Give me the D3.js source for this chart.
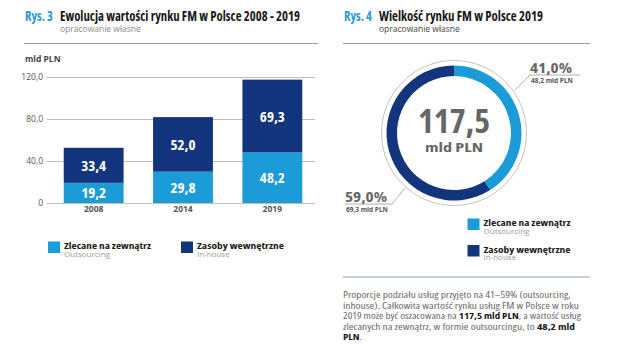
<!DOCTYPE html>
<html lang="pl">
<head>
<meta charset="UTF-8">
<title>Rynek FM w Polsce</title>
<script src="https://d3js.org/d3.v7.min.js"></script>
<style>
    body { margin: 0; background: #fff; }
    text { font-family: "Open Sans", "Noto Sans", sans-serif; white-space: pre; }
    .cond { font-stretch: 75%; }
    .semi { font-stretch: 87.5%; }
</style>
</head>
<body>
<svg id="chart" width="627" height="348"></svg>
<script>
    // dane: wartość rynku FM (mld PLN)
    const years = ["2008", "2014", "2019"];
    const outsourcing = [19.2, 29.8, 48.2];
    const inhouse = [33.4, 52.0, 69.3];
    const yTicks = [0, 40, 80, 120];

    // struktura rynku w 2019
    const shareNames = ["Zlecane na zewnątrz", "Zasoby wewnętrzne"];
    const shareSub = ["Outsourcing", "In-house"];
    const shareValues = [48.2, 69.3];

    const LIGHT = "#1b9bd7", DARK = "#12357d", ACCENT = "#2a9ad7";

    const svg = d3.select("#chart");
    const fmt = d => d === 0 ? "0" : d3.format(".1f")(d).replace(".", ",");

    // tekst zwężony (font-stretch), szerokość dociągnięta przez textLength
    function cond(g, x, y, str, opts) {
        const t = g.append("text")
            .attr("class", "cond")
            .attr("x", x).attr("y", y)
            .attr("text-anchor", opts.anchor || "start")
            .attr("font-size", opts.size)
            .attr("font-weight", opts.weight || 700)
            .attr("fill", opts.fill || "#222")
            .text(str);
        if (opts.width) t.attr("textLength", opts.width).attr("lengthAdjust", "spacingAndGlyphs");
        return t;
    }

    // linia tekstu z fragmentami (zwykły / pogrubiony), skalowana do szerokości
    function fitLine(x, y, parts, width, size) {
        const g = svg.append("g");
        const nodes = parts.map(([s, b]) => g.append("text")
            .attr("class", "semi")
            .attr("font-size", size)
            .attr("font-weight", b ? 700 : 400)
            .attr("fill", b ? "#1a1a1a" : "#6a6a6a")
            .text(s));
        const lens = nodes.map(n => n.node().getComputedTextLength());
        let cur = 0;
        nodes.forEach((n, i) => { n.attr("x", cur); cur += lens[i]; });
        g.attr("transform", `translate(${x},${y}) scale(${width / cur},1)`);
    }

    function header(x, label, title, titleW, sub, subFill, lineX2) {
        cond(svg, x, 21, label, {size: 14, fill: ACCENT, width: 28});
        cond(svg, x + 35, 21, title, {size: 14, fill: "#1a1a1a", width: titleW});
        svg.append("text").attr("x", x + 35).attr("y", 32)
            .attr("font-size", 8.5).attr("fill", subFill).text(sub);
        svg.append("line").attr("x1", x - 1).attr("x2", lineX2)
            .attr("y1", 43.5).attr("y2", 43.5)
            .attr("stroke", "#8d9ec8").attr("stroke-width", 1);
    }

    header(25, "Rys. 3", "Ewolucja wartości rynku FM w Polsce 2008 - 2019", 240,
        "opracowanie własne", "#8a8a8a", 318);
    header(344, "Rys. 4", "Wielkość rynku FM w Polsce 2019", 164,
        "opracowanie własne", "#444", 590);

    // ---- wykres słupkowy ----
    const y = d3.scaleLinear().domain([0, 120]).range([203, 77]);
    const x = d3.scaleBand().domain(years).range([49, 317]).paddingInner(0.33).paddingOuter(0.165);

    svg.append("text").attr("x", 25).attr("y", 62)
        .attr("font-size", 8.5).attr("font-weight", 700).attr("fill", "#444").text("mld PLN");

    svg.append("g")
        .selectAll("line").data(yTicks).join("line")
        .attr("x1", 47).attr("x2", 315)
        .attr("y1", d => y(d) + 0.5).attr("y2", d => y(d) + 0.5)
        .attr("stroke", "#bdbdbd").attr("stroke-width", 1);

    svg.append("g").attr("transform", "translate(43,0)")
        .call(d3.axisLeft(y).tickValues(yTicks).tickSize(0).tickPadding(0).tickFormat(fmt))
        .call(g => g.select(".domain").remove())
        .call(g => g.selectAll("text").attr("font-size", 8.5).attr("fill", "#555")
            .attr("font-family", "'Open Sans', sans-serif"));

    const rows = years.map((yr, i) => ({yr, out: outsourcing[i], inh: inhouse[i]}));
    const stacked = d3.stack().keys(["out", "inh"])(rows);
    const colors = {out: LIGHT, inh: DARK};

    const layers = svg.append("g").selectAll("g").data(stacked).join("g")
        .attr("fill", d => colors[d.key]);
    layers.selectAll("rect").data(d => d).join("rect")
        .attr("x", d => x(d.data.yr))
        .attr("width", x.bandwidth())
        .attr("y", d => y(d[1]))
        .attr("height", d => y(d[0]) - y(d[1]));

    stacked.forEach(layer => {
        layer.forEach(d => {
            cond(svg, x(d.data.yr) + x.bandwidth() / 2, (y(d[0]) + y(d[1])) / 2 + 5.5,
                fmt(d[1] - d[0]), {size: 14.5, fill: "#fff", anchor: "middle", width: 25});
        });
    });

    svg.append("g").attr("transform", "translate(0,206)")
        .call(d3.axisBottom(x).tickSize(0).tickPadding(0))
        .call(g => g.select(".domain").remove())
        .call(g => g.selectAll("text").attr("font-size", 8.5).attr("font-weight", 700)
            .attr("fill", "#555").attr("dy", "0.71em").attr("font-family", "'Open Sans', sans-serif"));

    // legenda
    function legendItem(x0, y0, color, name, sub) {
        svg.append("rect").attr("x", x0).attr("y", y0).attr("width", 12).attr("height", 11.5).attr("fill", color);
        cond(svg, x0 + 16, y0 + 7.5, name, {size: 9.5, fill: "#1c1c1c", width: 87});
        svg.append("text").attr("x", x0 + 16).attr("y", y0 + 15)
            .attr("font-size", 8).attr("fill", "#9a9a9a").text(sub);
    }
    legendItem(48, 241.5, LIGHT, shareNames[0], shareSub[0]);
    legendItem(181, 241.5, DARK, shareNames[1], shareSub[1]);

    // ---- wykres pierścieniowy ----
    const cx = 454, cy = 133;
    const donut = svg.append("g").attr("transform", `translate(${cx},${cy})`);
    donut.append("circle").attr("r", 72.5).attr("fill", "none").attr("stroke", "#c4c4c4").attr("stroke-width", 1);

    const total = d3.sum(shareValues);
    const pie = d3.pie().sort(null)(shareValues);
    const arc = d3.arc().innerRadius(57).outerRadius(67.5);
    donut.selectAll("path").data(pie).join("path")
        .attr("d", arc)
        .attr("fill", (d, i) => i === 0 ? LIGHT : DARK);

    cond(donut, 0, 0, fmt(total), {size: 33, fill: "#666", anchor: "middle", width: 72});
    cond(donut, 0, 19, "mld PLN", {size: 13, fill: "#666", anchor: "middle", width: 58});

    const pct = v => d3.format(".1f")(v / total * 100).replace(".", ",") + "%";

    // etykiety z odnośnikami
    const labels = [
        {i: 0, ang: 55, x0: 530, x1: 580, ty: 75, anchorX: 530},
        {i: 1, ang: 221.7, x0: 345, x1: 392, ty: 204, anchorX: 392}
    ];
    labels.forEach(l => {
        const a = l.ang * Math.PI / 180;
        const px = cx + 74 * Math.sin(a), py = cy - 74 * Math.cos(a);
        svg.append("polyline")
            .attr("points", `${px},${py} ${l.anchorX},${l.ty} ${l.x0 === l.anchorX ? l.x1 : l.x0},${l.ty}`)
            .attr("fill", "none").attr("stroke", "#9a9a9a").attr("stroke-width", 0.8);
        cond(svg, l.x0, l.ty - 2, pct(shareValues[l.i]), {size: 14.5, fill: "#666", width: 42});
        svg.append("text").attr("x", l.x0 + 1).attr("y", l.ty + 7.5)
            .attr("font-size", 6.5).attr("font-weight", 700).attr("fill", "#555")
            .text(fmt(shareValues[l.i]) + " mld PLN");
    });

    legendItem(467.5, 218.5, LIGHT, shareNames[0], shareSub[0]);
    legendItem(467.5, 245, DARK, shareNames[1], shareSub[1]);

    svg.append("line").attr("x1", 343).attr("x2", 590).attr("y1", 277).attr("y2", 277)
        .attr("stroke", "#8d9ec8").attr("stroke-width", 1);

    // opis
    const para = [
        {w: 228, parts: [["Proporcje podziału usług przyjęto na 41–59% (outsourcing,", 0]]},
        {w: 236, parts: [["inhouse). Całkowita wartość rynku usług FM w Polsce w roku", 0]]},
        {w: 238, parts: [["2019 może być oszacowana na ", 0], ["117,5 mld PLN", 1], [", a wartość usług", 0]]},
        {w: 232, parts: [["zlecanych na zewnątrz, w formie outsourcingu, to ", 0], ["48,2 mld", 1]]},
        {w: 19, parts: [["PLN", 1], [".", 0]]}
    ];
    para.forEach((line, i) => fitLine(343, 298 + i * 10.6, line.parts, line.w, 9.3));
</script>
</body>
</html>
